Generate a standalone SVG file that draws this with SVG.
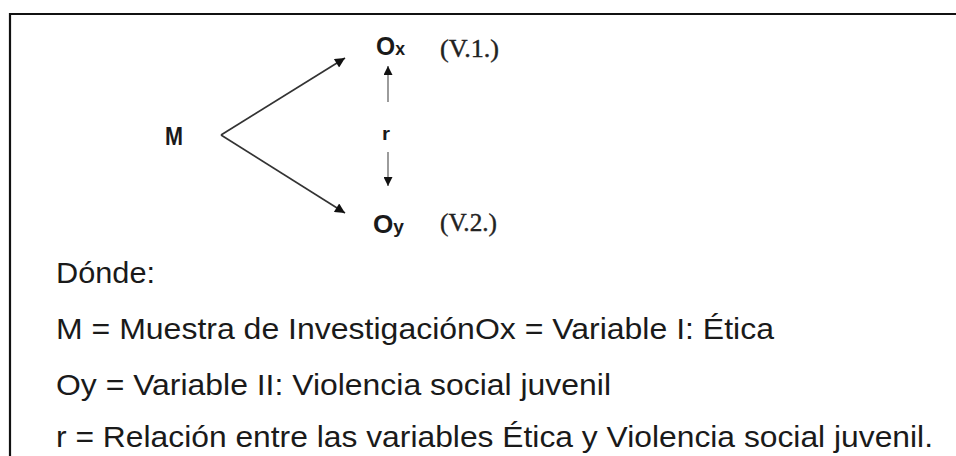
<svg xmlns="http://www.w3.org/2000/svg" width="956" height="456" viewBox="0 0 956 456">
<style>
.b{font-family:"Liberation Sans",Arial,sans-serif;font-weight:bold;fill:#1a1a1a}
.v{font-family:"Liberation Serif","Times New Roman",serif;fill:#222;stroke:#222;stroke-width:0.4}
.t{font-family:"Liberation Sans",Arial,sans-serif;font-size:30px;fill:#1a1a1a}
.c{stroke:#333;stroke-width:1.7;fill:none}
.cv{stroke:#666;stroke-width:1.3;fill:none}
</style>
<defs>
<marker id="ah" viewBox="0 0 10 10" refX="10" refY="5" markerWidth="12" markerHeight="10" markerUnits="userSpaceOnUse" orient="auto">
<path d="M0,0 L10,5 L0,10 Z" fill="#111"/>
</marker>
<marker id="ahs" viewBox="0 0 10 10" refX="10" refY="5" markerWidth="14" markerHeight="9" markerUnits="userSpaceOnUse" orient="auto">
<path d="M0,0 L10,5 L0,10 Z" fill="#111"/>
</marker>
</defs>
<rect width="956" height="456" fill="#fff"/>
<g id="frame">
<path d="M10,456 V14 H956" stroke="#111" stroke-width="2.2" fill="none"/>
</g>
<g id="connectors">
<path class="c" d="M221,135 L345,58" marker-end="url(#ah)"/>
<path class="c" d="M221,135 L345,213" marker-end="url(#ah)"/>
<path class="cv" d="M388,102 L388,66" marker-end="url(#ahs)"/>
<path class="cv" d="M388,152 L388,186" marker-end="url(#ahs)"/>
</g>
<g id="node-M">
<text class="b" x="165" y="145" font-size="26" textLength="18" lengthAdjust="spacingAndGlyphs">M</text>
</g>
<g id="node-Ox">
<text class="b" x="376" y="55" font-size="25" textLength="29" lengthAdjust="spacingAndGlyphs">O<tspan font-size="18">x</tspan></text>
<text class="v" x="440" y="57" font-size="25" textLength="59" lengthAdjust="spacingAndGlyphs">(V.1.)</text>
</g>
<g id="node-Oy">
<text class="b" x="373" y="233" font-size="26" textLength="31" lengthAdjust="spacingAndGlyphs">O<tspan font-size="19">y</tspan></text>
<text class="v" x="440" y="231" font-size="25" textLength="57" lengthAdjust="spacingAndGlyphs">(V.2.)</text>
</g>
<g id="label-r">
<text class="b" x="382" y="140" font-size="19" textLength="8" lengthAdjust="spacingAndGlyphs">r</text>
</g>
<g id="legend">
<text class="t" x="56" y="283" textLength="99" lengthAdjust="spacingAndGlyphs">Dónde:</text>
<text class="t" x="56" y="339" textLength="718" lengthAdjust="spacingAndGlyphs">M = Muestra de InvestigaciónOx = Variable I: Ética</text>
<text class="t" x="56" y="395" textLength="555" lengthAdjust="spacingAndGlyphs">Oy = Variable II: Violencia social juvenil</text>
<text class="t" x="56" y="447" textLength="877" lengthAdjust="spacingAndGlyphs">r = Relación entre las variables Ética y Violencia social juvenil.</text>
</g>
</svg>
